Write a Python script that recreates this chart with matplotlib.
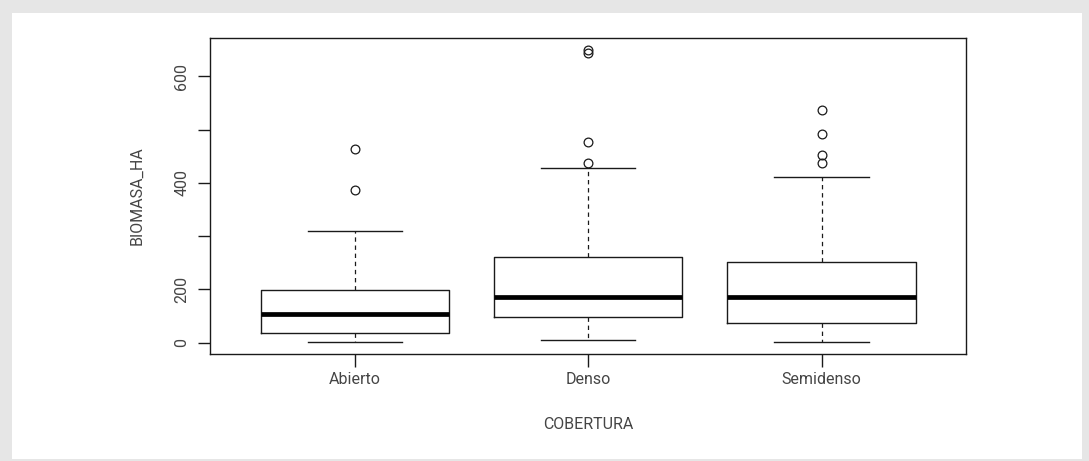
import matplotlib
matplotlib.use("Agg")
import matplotlib.pyplot as plt
from matplotlib.patches import Rectangle
import numpy as np

# Boxplot summaries of BIOMASA_HA by COBERTURA
categories = ["Abierto", "Denso", "Semidenso"]
whisker_low = [1, 10, 2]
quartile_1 = [35, 96, 74]
medians = [107, 171, 170]
quartile_3 = [197, 261, 251]
whisker_high = [309, 428, 411]
outliers = [
    [386, 463],
    [437, 476, 643, 649],
    [438, 453, 491, 537],
]

y_ticks = [0, 200, 300, 400, 500, 600]
y_tick_labels = ["0", "200", "", "400", "", "600"]

TEXT = "#454545"
LINE = "#1a1a1a"
FONT = ["Roboto", "DejaVu Sans"]

plt.rcParams["font.family"] = FONT


def _fwd(v):
    v = np.asarray(v, dtype=float)
    return np.where(v < 200, v / 2.0, v - 100.0)


def _inv(u):
    u = np.asarray(u, dtype=float)
    return np.where(u < 100, u * 2.0, u + 100.0)


fig = plt.figure(figsize=(10.89, 4.61), dpi=100)
fig.patch.set_facecolor("#e6e6e6")
panel = Rectangle((12 / 1089, 2 / 461), 1070 / 1089, 446 / 461,
                  transform=fig.transFigure, facecolor="white",
                  edgecolor="none", zorder=-10)
fig.add_artist(panel)

ax = fig.add_axes([210 / 1089, 1 - 354 / 461, 756 / 1089, 316 / 461])
ax.set_zorder(5)
ax.patch.set_alpha(0)
ax.set_yscale("function", functions=(_fwd, _inv))

stats = []
for i, name in enumerate(categories):
    stats.append(dict(label=name, whislo=whisker_low[i], q1=quartile_1[i],
                      med=medians[i], q3=quartile_3[i],
                      whishi=whisker_high[i], fliers=outliers[i]))

ax.bxp(stats, positions=[1, 2, 3], widths=0.807,
       boxprops=dict(color=LINE, linewidth=1.0),
       medianprops=dict(color="black", linewidth=3.4, solid_capstyle="butt"),
       whiskerprops=dict(color=LINE, linewidth=0.9, linestyle=(0, (3.5, 3))),
       capprops=dict(color=LINE, linewidth=1.0),
       flierprops=dict(marker="o", markersize=6.3, markerfacecolor="none",
                       markeredgecolor=LINE, markeredgewidth=0.9))

ax.set_xlim(0.379, 3.619)
ax.set_ylim(-43, 672)
ax.set_yticks(y_ticks)
ax.set_yticklabels(y_tick_labels)
ax.set_xticks([1, 2, 3])
ax.set_xticklabels(categories)

for side in ax.spines.values():
    side.set_color(LINE)
    side.set_linewidth(1.0)

ax.tick_params(axis="both", length=9, width=1.0, color=LINE,
               labelcolor=TEXT, labelsize=11.5)
ax.tick_params(axis="x", pad=4)
ax.tick_params(axis="y", pad=6)
for lab in ax.get_yticklabels():
    lab.set_rotation(90)
    lab.set_va("center")

ax.set_xlabel("COBERTURA", color=TEXT, fontsize=11.5)
ax.xaxis.set_label_coords(0.5, -0.223)
ax.xaxis.label.set_va("center")
ax.set_ylabel("BIOMASA_HA", color=TEXT, fontsize=11.5)
ax.yaxis.set_label_coords(-0.0966, 0.5)
ax.yaxis.label.set_va("center")

fig.savefig("out.png", dpi=100, facecolor=fig.get_facecolor())
plt.close(fig)
